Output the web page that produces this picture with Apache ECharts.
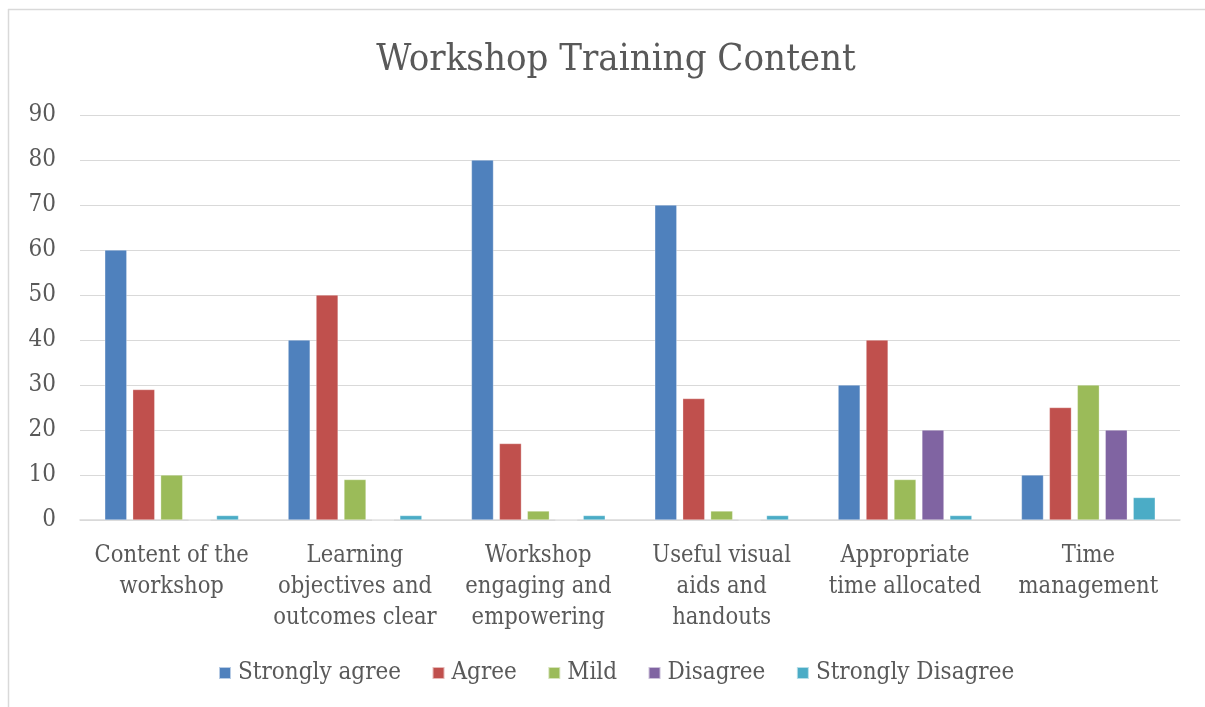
<!DOCTYPE html>
<html>
<head>
<meta charset="utf-8">
<script src="https://cdn.jsdelivr.net/npm/echarts@6/dist/echarts.min.js"></script>
<style>
  html, body { margin: 0; padding: 0; background: #fff; overflow: hidden; }
  #chart { position: absolute; left: 0; top: 0; width: 1205px; height: 707px; }
</style>
</head>
<body>
<div id="chart"></div>
<script>
var categories = [
  'Content of the\nworkshop',
  'Learning\nobjectives and\noutcomes clear',
  'Workshop\nengaging and\nempowering',
  'Useful visual\naids and\nhandouts',
  'Appropriate\ntime allocated',
  'Time\nmanagement'
];
var seriesNames = ['Strongly agree', 'Agree', 'Mild', 'Disagree', 'Strongly Disagree'];
var stronglyAgree = [60, 40, 80, 70, 30, 10];
var agree = [29, 50, 17, 27, 40, 25];
var mild = [10, 9, 2, 2, 9, 30];
var disagree = [0, 0, 0, 0, 20, 20];
var stronglyDisagree = [1, 1, 1, 1, 1, 5];
var colors = ['#4F81BD', '#C0504D', '#9BBB59', '#8064A2', '#4BACC6'];

var FONT = '"DejaVu Serif Condensed", "Liberation Serif", serif';
var TEXT = '#595959';

var chart = echarts.init(document.getElementById('chart'));

var values = [stronglyAgree, agree, mild, disagree, stronglyDisagree];
var series = values.map(function (d, i) {
  return {
    name: seriesNames[i],
    type: 'bar',
    data: d,
    barWidth: 22,
    barGap: '27%',
    itemStyle: { color: colors[i], borderColor: 'rgba(255,255,255,0.6)', borderWidth: 0.5 }
  };
});

chart.setOption({
  animation: false,
  color: colors,
  // chart frame, only top and left edges are in view
  graphic: [
    { type: 'line', shape: { x1: 8, y1: 9.5, x2: 1205, y2: 9.5 }, style: { stroke: '#d9d9d9', lineWidth: 1.5 } },
    { type: 'line', shape: { x1: 8.5, y1: 9, x2: 8.5, y2: 707 }, style: { stroke: '#d9d9d9', lineWidth: 1.5 } }
  ],
  title: {
    text: 'Workshop Training Content',
    left: 611,
    textAlign: 'center',
    top: 36,
    textStyle: { fontFamily: FONT, fontSize: 38, fontWeight: 'normal', color: TEXT }
  },
  legend: {
    data: seriesNames,
    left: 213,
    top: 656,
    itemWidth: 12,
    itemHeight: 12,
    itemGap: 30.5,
    icon: 'rect',
    textStyle: { fontFamily: FONT, fontSize: 24, color: TEXT, padding: [0, 0, 0, 2] }
  },
  grid: { left: 80, right: 25, top: 115, bottom: 187, containLabel: false },
  xAxis: {
    type: 'category',
    data: categories,
    axisLine: { lineStyle: { color: '#d9d9d9', width: 1.5 } },
    axisTick: { show: false },
    axisLabel: { fontFamily: FONT, fontSize: 23.5, color: TEXT, lineHeight: 31, margin: 20, interval: 0 }
  },
  yAxis: {
    type: 'value',
    min: 0,
    max: 90,
    interval: 10,
    axisLine: { show: false },
    axisTick: { show: false },
    splitLine: { lineStyle: { color: '#d9d9d9', width: 1 } },
    axisLabel: { fontFamily: FONT, fontSize: 24, color: TEXT, margin: 24 }
  },
  series: series
});
</script>
</body>
</html>
